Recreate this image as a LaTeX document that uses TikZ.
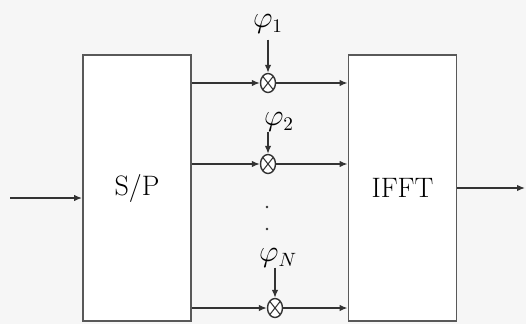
\documentclass[tikz,border=0pt]{standalone}
\usetikzlibrary{arrows.meta, positioning, shapes.geometric}

\begin{document}
\begin{tikzpicture}[
        x = 0.02cm, y = -0.02cm,
        >= {Latex[length = 1.6mm, width = 1.3mm]},
        every node/.style = {font = \fontsize{16}{18}\selectfont},
        block/.style = {draw = black!65, line width = 1.1pt, fill = white,
            minimum width = 2.16cm, minimum height = 5.32cm, inner sep = 0pt},
        mixer/.style = {ellipse, draw = black!80, line width = 0.8pt, fill = white,
            minimum width = 0.3cm, minimum height = 0.38cm, inner sep = 0pt,
            path picture = {\draw[line width = 0.6pt]
                (path picture bounding box.north west) -- (path picture bounding box.south east)
                (path picture bounding box.north east) -- (path picture bounding box.south west);}},
        link/.style = {->, line width = 0.8pt, draw = black!80},
        dot/.style = {circle, fill = black!80, inner sep = 0pt, minimum size = 1.6pt}
    ]
      % canvas
      \fill[gray!7] (0,0) rectangle (526,324);

      \node[block] (sp) at (137,188) {S/P};
      \node[block] (ifft) at (402.5,188) {IFFT};

      \node[mixer] (m1) at (268,83) {};
      \node[mixer] (m2) at (268,164) {};
      \node[mixer] (mN) at (275,308) {};

      \node (p1) at (268,24) {$\varphi_1$};
      \node (p2) at (279,122) {$\varphi_2$};
      \node (pN) at (278,258) {$\varphi_N$};

      \node[dot] (d1) at (267,207) {};
      \node[dot] (d2) at (267,229) {};

      \coordinate (in) at (10,198);
      \coordinate (out) at (525,188);

      \draw[link] (in) -- (in -| sp.west);
      \draw[link] (ifft.east |- out) -- (out);

      \foreach \m in {m1, m2, mN} {
          \draw[link] (\m -| sp.east) -- (\m.west);
          \draw[link] (\m.east) -- (\m -| ifft.west);
      }

      \draw[link] (p1.south) -- (m1.north);
      \draw[link] (m2.north |- p2.south) ++(0,-6) -- (m2.north);
      \draw[link] (mN.north |- pN.south) ++(0,-6) -- (mN.north);
    \end{tikzpicture}
\end{document}
